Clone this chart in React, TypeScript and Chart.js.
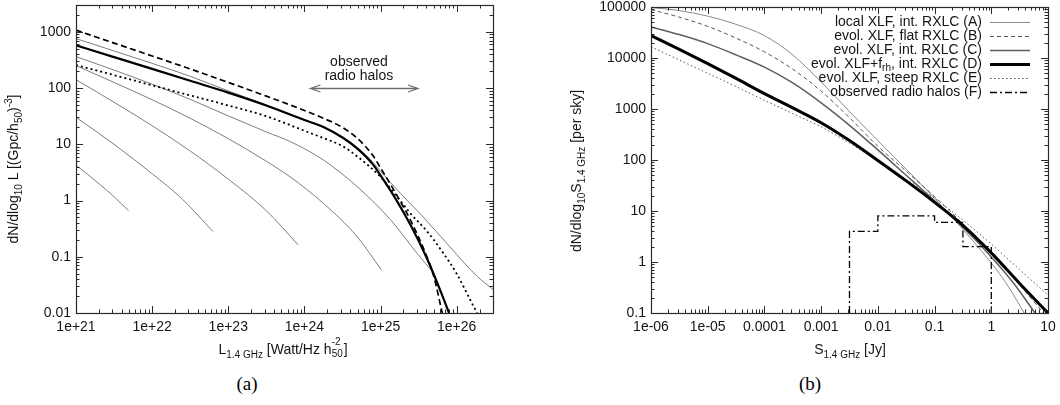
import React, { useEffect, useRef } from 'react';
import { Chart, registerables } from 'chart.js';

Chart.register(...registerables);

const FONT = '"Liberation Sans", Arial, Helvetica, sans-serif';
const TEXT = '#151515';

// ---------------- Panel (a): luminosity function ----------------
const A_X_MIN = 1e21;
const A_X_MAX = 3e26;
const A_Y_MIN = 0.01;
const A_Y_MAX = 3000;
const A_X_TICKS = [1e21, 1e22, 1e23, 1e24, 1e25, 1e26];
const A_X_LABELS = ['1e+21', '1e+22', '1e+23', '1e+24', '1e+25', '1e+26'];
const A_Y_TICKS = [0.01, 0.1, 1, 10, 100, 1000];
const A_Y_LABELS = ['0.01', '0.1', '1', '10', '100', '1000'];

// thick solid black
const A_THICK_L = [1e21, 3.16e21, 1e22, 3.16e22, 1e23, 3.16e23, 1e24, 1.78e24, 3.16e24, 5.01e24, 7.94e24, 1e25, 1.58e25, 2.51e25, 3.98e25, 6.31e25, 7.94e25];
const A_THICK_N = [575, 355, 219, 135, 83, 49, 27, 20.4, 13.2, 8.3, 4.4, 2.8, 1.07, 0.355, 0.1, 0.0224, 0.01];
// bold dashed black
const A_DASH_L = [1e21, 3.16e21, 1e22, 3.16e22, 1e23, 3.16e23, 1e24, 1.78e24, 3.16e24, 5.01e24, 7.94e24, 1e25, 1.58e25, 2.51e25, 3.98e25, 5.01e25, 6.46e25];
const A_DASH_N = [1070, 631, 372, 219, 126, 72, 40, 29, 20, 12.6, 6.3, 3.8, 1.35, 0.43, 0.107, 0.0447, 0.01];
// bold dotted black
const A_DOT_L = [1e21, 3.16e21, 1e22, 3.16e22, 1e23, 3.16e23, 1e24, 1.78e24, 3.16e24, 5.01e24, 1e25, 1.58e25, 2.51e25, 3.98e25, 6.31e25, 1e26, 1.58e26, 1.86e26];
const A_DOT_N = [257, 170, 112, 74, 49, 31.6, 17.4, 12.9, 9.3, 6.0, 2.63, 1.26, 0.575, 0.295, 0.129, 0.05, 0.0151, 0.01];
// thin grey curves
const A_G1_L = [1e21, 2e21, 3.16e21, 4.9e21];
const A_G1_N = [4.27, 2.0, 1.17, 0.66];
const A_G2_L = [1e21, 3.16e21, 1e22, 2.51e22, 6.3e22];
const A_G2_N = [30.2, 10, 3.0, 1.05, 0.28];
const A_G3_L = [1e21, 3.16e21, 1e22, 3.16e22, 1e23, 3.16e23, 8.3e23];
const A_G3_N = [141, 56, 21.4, 7.6, 2.4, 0.66, 0.162];
const A_G4_L = [1e21, 3.16e21, 1e22, 3.16e22, 1e23, 3.16e23, 6.5e23, 1.78e24, 4.9e24, 1.02e25];
const A_G4_N = [251, 126, 62, 29, 12.6, 5.0, 2.63, 0.89, 0.23, 0.059];
const A_G5_L = [1e21, 3.16e21, 1e22, 3.16e22, 1e23, 3.16e23, 6.5e23, 1.78e24, 4.9e24, 1.35e25, 3.02e25, 5.0e25];
const A_G5_N = [363, 209, 117, 63, 32, 16.6, 11.2, 5.25, 1.78, 0.457, 0.115, 0.051];
const A_G6_L = [1e21, 3.16e21, 1e22, 3.16e22, 1e23, 3.16e23, 1e24, 3.16e24, 5.01e24, 7.94e24, 1e25, 1.82e25, 3.63e25, 8.13e25, 1.86e26, 3e26];
const A_G6_N = [759, 457, 275, 162, 89, 50, 27.5, 13.5, 8.7, 4.8, 3.3, 1.35, 0.51, 0.151, 0.0447, 0.0263];

// "observed radio halos" arrow
const ARROW_FROM = 1.2e24;
const ARROW_TO = 3.1e25;
const ARROW_Y = 100;
const ARROW_TEXT_X = 5.2e24;
const ARROW_TEXT = ['observed', 'radio halos'];

// ---------------- Panel (b): number counts ----------------
const B_X_MIN = 1e-6;
const B_X_MAX = 10;
const B_Y_MIN = 0.1;
const B_Y_MAX = 100000;
const B_X_TICKS = [1e-6, 1e-5, 1e-4, 1e-3, 1e-2, 0.1, 1, 10];
const B_X_LABELS = ['1e-06', '1e-05', '0.0001', '0.001', '0.01', '0.1', '1', '10'];
const B_Y_TICKS = [0.1, 1, 10, 100, 1000, 10000, 100000];
const B_Y_LABELS = ['0.1', '1', '10', '100', '1000', '10000', '100000'];

const B_S = [1e-6, 3.16e-6, 1e-5, 3.16e-5, 1e-4, 3.16e-4, 1e-3, 3.16e-3, 1e-2, 3.16e-2, 0.1, 0.316, 1];
const B_A_S = [...B_S, 2.0, 3.8];
const B_A_N = [97700, 85100, 66100, 45700, 27500, 11500, 3390, 891, 240, 66, 17.8, 4.37, 0.955, 0.331, 0.1];
const B_B_S = [...B_S, 3.16, 8.3];
const B_B_N = [89100, 63100, 41700, 24500, 13200, 6030, 2240, 676, 186, 60.3, 19.1, 5.62, 1.51, 0.355, 0.1];
const B_C_S = [...B_S, 2.5, 5.9];
const B_C_N = [40700, 28800, 19100, 11500, 6610, 3240, 1320, 479, 158, 50.1, 15.8, 4.79, 1.26, 0.38, 0.1];
const B_D_S = [...B_S, 3.16, 10];
const B_D_N = [27500, 14800, 7760, 3980, 2000, 1050, 537, 240, 97.7, 38.9, 14.8, 5.25, 1.51, 0.38, 0.1];
const B_E_S = [...B_S, 3.16, 10];
const B_E_N = [16600, 9120, 5010, 2750, 1480, 813, 447, 214, 95.5, 41.7, 17.8, 6.61, 2.24, 0.708, 0.224];
// observed radio halos histogram (bin edges, counts)
const B_F_EDGES = [0.00316, 0.01, 0.1, 0.316, 1];
const B_F_COUNTS = [4, 8, 6, 2];

const LEGEND_KEYS = ['A', 'B', 'C', 'D', 'E', 'F'];
const LEGEND_ROWS: [string, boolean][][] = [
  [['local XLF, int. RXLC (A)', false]],
  [['evol. XLF, flat RXLC (B)', false]],
  [['evol. XLF, int. RXLC (C)', false]],
  [['evol. XLF+f', false], ['rh', true], [', int. RXLC (D)', false]],
  [['evol. XLF, steep RXLC (E)', false]],
  [['observed radio halos (F)', false]],
];

// ---------------- helpers ----------------
const pts = (xs: number[], ys: number[]) => xs.map((x, i) => ({ x, y: ys[i] }));

function line(label: string, xs: number[], ys: number[], color: string, width: number, dash: number[] = [], extra: any = {}) {
  return {
    label,
    data: pts(xs, ys),
    borderColor: color,
    borderWidth: width,
    borderDash: dash,
    pointRadius: 0,
    fill: false,
    cubicInterpolationMode: 'monotone',
    ...extra,
  };
}

const framePlugin = {
  id: 'gnuframe',
  afterDatasetsDraw(chart: any) {
    const { ctx, chartArea: a, scales } = chart;
    const xs = scales.x;
    const ys = scales.y;
    ctx.save();
    ctx.strokeStyle = '#2a2a2a';
    ctx.lineWidth = 1;
    ctx.beginPath();
    const eachLog = (min: number, max: number, fn: (v: number, major: boolean) => void) => {
      const e0 = Math.floor(Math.log10(min) - 1e-9);
      const e1 = Math.ceil(Math.log10(max) + 1e-9);
      for (let e = e0; e <= e1; e++) {
        for (let m = 1; m <= 9; m++) {
          const v = m * Math.pow(10, e);
          if (v < min * 0.999 || v > max * 1.001) continue;
          fn(v, m === 1);
        }
      }
    };
    eachLog(xs.min, xs.max, (v, major) => {
      const p = Math.round(xs.getPixelForValue(v)) + 0.5;
      const len = major ? 7 : 3.5;
      ctx.moveTo(p, a.bottom);
      ctx.lineTo(p, a.bottom - len);
      ctx.moveTo(p, a.top);
      ctx.lineTo(p, a.top + len);
    });
    eachLog(ys.min, ys.max, (v, major) => {
      const p = Math.round(ys.getPixelForValue(v)) + 0.5;
      const len = major ? 7 : 3.5;
      ctx.moveTo(a.left, p);
      ctx.lineTo(a.left + len, p);
      ctx.moveTo(a.right, p);
      ctx.lineTo(a.right - len, p);
    });
    ctx.stroke();
    ctx.lineWidth = 1.2;
    ctx.strokeRect(Math.round(a.left) + 0.5, Math.round(a.top) + 0.5, Math.round(a.right - a.left), Math.round(a.bottom - a.top));
    ctx.restore();
  },
};

const arrowPlugin = {
  id: 'halosArrow',
  afterDatasetsDraw(chart: any) {
    const { ctx, scales } = chart;
    const x1 = scales.x.getPixelForValue(ARROW_FROM);
    const x2 = scales.x.getPixelForValue(ARROW_TO);
    const y = Math.round(scales.y.getPixelForValue(ARROW_Y)) + 0.5;
    ctx.save();
    ctx.strokeStyle = '#6e6e6e';
    ctx.lineWidth = 1.3;
    ctx.beginPath();
    ctx.moveTo(x1, y);
    ctx.lineTo(x2, y);
    ctx.moveTo(x1 + 10, y - 3.5);
    ctx.lineTo(x1, y);
    ctx.lineTo(x1 + 10, y + 3.5);
    ctx.moveTo(x2 - 10, y - 3.5);
    ctx.lineTo(x2, y);
    ctx.lineTo(x2 - 10, y + 3.5);
    ctx.stroke();
    const tx = scales.x.getPixelForValue(ARROW_TEXT_X);
    ctx.fillStyle = TEXT;
    ctx.font = `14px ${FONT}`;
    ctx.textAlign = 'center';
    ctx.textBaseline = 'middle';
    ctx.fillText(ARROW_TEXT[0], tx, y - 26);
    ctx.fillText(ARROW_TEXT[1], tx, y - 12);
    ctx.restore();
  },
};

const legendPlugin = {
  id: 'gnuLegend',
  afterDraw(chart: any) {
    const { ctx } = chart;
    const datasets = chart.data.datasets;
    const textRight = 452;
    const sx0 = 460;
    const sx1 = 500;
    const y0 = 22;
    const dy = 14;
    ctx.save();
    ctx.textBaseline = 'middle';
    ctx.textAlign = 'left';
    ctx.fillStyle = TEXT;
    LEGEND_ROWS.forEach((parts, i) => {
      const y = y0 + i * dy;
      const fontFor = (sub: boolean) => `${sub ? 10 : 14}px ${FONT}`;
      let total = 0;
      parts.forEach(([t, sub]) => {
        ctx.font = fontFor(sub);
        total += ctx.measureText(t).width;
      });
      let x = textRight - total;
      parts.forEach(([t, sub]) => {
        ctx.font = fontFor(sub);
        ctx.fillText(t, x, sub ? y + 4 : y);
        x += ctx.measureText(t).width;
      });
      const ds = datasets.find((d: any) => d.label === LEGEND_KEYS[i]);
      if (ds) {
        ctx.strokeStyle = ds.borderColor;
        ctx.lineWidth = ds.borderWidth;
        ctx.setLineDash(ds.borderDash || []);
        ctx.beginPath();
        ctx.moveTo(sx0, Math.round(y) + 0.5);
        ctx.lineTo(sx1, Math.round(y) + 0.5);
        ctx.stroke();
        ctx.setLineDash([]);
      }
    });
    ctx.restore();
  },
};

function buildConfig(o: any) {
  return {
    type: 'line',
    data: { datasets: o.datasets },
    options: {
      responsive: false,
      animation: false,
      devicePixelRatio: 1,
      events: [],
      layout: { padding: o.padding },
      plugins: { legend: { display: false }, tooltip: { enabled: false }, title: { display: false } },
      scales: {
        x: {
          type: 'logarithmic',
          min: o.xMin,
          max: o.xMax,
          bounds: 'data',
          afterFit: (s: any) => {
            s.height = o.xAxisH;
            s.paddingLeft = 0; s.paddingRight = 0; s.paddingTop = 0; s.paddingBottom = 0;
          },
          afterBuildTicks: (s: any) => { s.ticks = o.xTicks.map((v: number) => ({ value: v })); },
          grid: { display: false, drawTicks: false },
          border: { display: false },
          ticks: {
            autoSkip: false, maxRotation: 0, minRotation: 0, padding: 6, color: TEXT,
            font: { family: FONT, size: 14 },
            callback: (_v: any, i: number) => o.xLabels[i],
          },
        },
        y: {
          type: 'logarithmic',
          min: o.yMin,
          max: o.yMax,
          bounds: 'data',
          afterFit: (s: any) => {
            s.width = o.yAxisW;
            s.paddingLeft = 0; s.paddingRight = 0; s.paddingTop = 0; s.paddingBottom = 0;
          },
          afterBuildTicks: (s: any) => { s.ticks = o.yTicks.map((v: number) => ({ value: v })); },
          grid: { display: false, drawTicks: false },
          border: { display: false },
          ticks: {
            autoSkip: false, padding: 5, color: TEXT,
            font: { family: FONT, size: 14 },
            callback: (_v: any, i: number) => o.yLabels[i],
          },
        },
      },
    },
    plugins: [framePlugin, ...(o.plugins || [])],
  };
}

function histogramPoints(edges: number[], counts: number[], floor: number) {
  const p = [{ x: edges[0], y: floor }];
  edges.forEach((e, i) => p.push({ x: e, y: i < counts.length ? counts[i] : counts[counts.length - 1] }));
  p.push({ x: edges[edges.length - 1], y: floor });
  return p;
}

const GREY = '#7d7d7d';

function configA() {
  const datasets = [
    line('thick', A_THICK_L, A_THICK_N, '#000', 2.2),
    line('dashed', A_DASH_L, A_DASH_N, '#000', 1.7, [6, 3.5]),
    line('dotted', A_DOT_L, A_DOT_N, '#000', 1.8, [2, 3]),
    line('g6', A_G6_L, A_G6_N, GREY, 1),
    line('g5', A_G5_L, A_G5_N, GREY, 1),
    line('g4', A_G4_L, A_G4_N, GREY, 1),
    line('g3', A_G3_L, A_G3_N, GREY, 1),
    line('g2', A_G2_L, A_G2_N, GREY, 1),
    line('g1', A_G1_L, A_G1_N, GREY, 1),
  ];
  return buildConfig({
    datasets,
    padding: { left: 0, top: 5, right: 7, bottom: 0 },
    xMin: A_X_MIN, xMax: A_X_MAX, yMin: A_Y_MIN, yMax: A_Y_MAX,
    xTicks: A_X_TICKS, xLabels: A_X_LABELS, yTicks: A_Y_TICKS, yLabels: A_Y_LABELS,
    xAxisH: 52, yAxisW: 76,
    plugins: [arrowPlugin],
  });
}

function configB() {
  const datasets = [
    line('D', B_D_S, B_D_N, '#000', 3),
    line('F', [], [], '#000', 1.3, [7, 3, 2, 3], { data: histogramPoints(B_F_EDGES, B_F_COUNTS, B_Y_MIN), stepped: 'before', cubicInterpolationMode: 'default' }),
    line('C', B_C_S, B_C_N, '#5e5e5e', 1.5),
    line('B', B_B_S, B_B_N, '#555', 1, [4, 3]),
    line('E', B_E_S, B_E_N, '#555', 1, [1.5, 2.5]),
    line('A', B_A_S, B_A_N, '#8a8a8a', 1),
  ];
  return buildConfig({
    datasets,
    padding: { left: 0, top: 7, right: 12, bottom: 0 },
    xMin: B_X_MIN, xMax: B_X_MAX, yMin: B_Y_MIN, yMax: B_Y_MAX,
    xTicks: B_X_TICKS, xLabels: B_X_LABELS, yTicks: B_Y_TICKS, yLabels: B_Y_LABELS,
    xAxisH: 52, yAxisW: 121,
    plugins: [legendPlugin],
  });
}

const Sub = ({ children }: any) => <span style={{ fontSize: 10, position: 'relative', top: 4 }}>{children}</span>;
const Sup = ({ children }: any) => <span style={{ fontSize: 10, position: 'relative', top: -6 }}>{children}</span>;
const Stack = ({ top, bottom }: any) => (
  <span style={{ display: 'inline-block', position: 'relative', width: 12, height: 10 }}>
    <span style={{ position: 'absolute', left: 0, top: -8, fontSize: 10, lineHeight: '11px' }}>{top}</span>
    <span style={{ position: 'absolute', left: 0, top: 4, fontSize: 10, lineHeight: '11px' }}>{bottom}</span>
  </span>
);

const titleBase: any = {
  position: 'absolute', fontSize: 14, lineHeight: '16px', whiteSpace: 'nowrap', textAlign: 'center', width: 300,
};

export default function App() {
  const refA = useRef<HTMLCanvasElement>(null);
  const refB = useRef<HTMLCanvasElement>(null);
  useEffect(() => {
    const ca = new Chart(refA.current as HTMLCanvasElement, configA() as any);
    const cb = new Chart(refB.current as HTMLCanvasElement, configB() as any);
    return () => { ca.destroy(); cb.destroy(); };
  }, []);
  return (
    <div style={{ position: 'absolute', left: 0, top: 0, width: 1060, height: 405, background: '#fff', overflow: 'hidden', fontFamily: FONT, color: TEXT }}>
      <canvas ref={refA} width={500} height={365} style={{ position: 'absolute', left: 0, top: 0, width: 500, height: 365 }} />
      <canvas ref={refB} width={530} height={365} style={{ position: 'absolute', left: 530, top: 0, width: 530, height: 365 }} />

      <div style={{ ...titleBase, left: 14 - 150, top: 168 - 8, transform: 'rotate(-90deg)' }}>
        dN/dlog<Sub>10</Sub> L [(Gpc/h<Sub>50</Sub>)<Sup>-3</Sup>]
      </div>
      <div style={{ ...titleBase, left: 283 - 150, top: 341 }}>
        L<Sub>1.4 GHz</Sub> [Watt/Hz h<Stack top="-2" bottom="50" />]
      </div>

      <div style={{ ...titleBase, left: 577 - 150, top: 170 - 8, transform: 'rotate(-90deg)' }}>
        dN/dlog<Sub>10</Sub>S<Sub>1.4 GHz</Sub> [per sky]
      </div>
      <div style={{ ...titleBase, left: 850 - 150, top: 341 }}>
        S<Sub>1.4 GHz</Sub> [Jy]
      </div>

      <div style={{ position: 'absolute', left: 247 - 30, width: 60, top: 373, textAlign: 'center', fontFamily: '"Liberation Serif", "DejaVu Serif", serif', fontSize: 19, lineHeight: '22px', color: '#000' }}>(a)</div>
      <div style={{ position: 'absolute', left: 810 - 30, width: 60, top: 373, textAlign: 'center', fontFamily: '"Liberation Serif", "DejaVu Serif", serif', fontSize: 19, lineHeight: '22px', color: '#000' }}>(b)</div>
    </div>
  );
}
